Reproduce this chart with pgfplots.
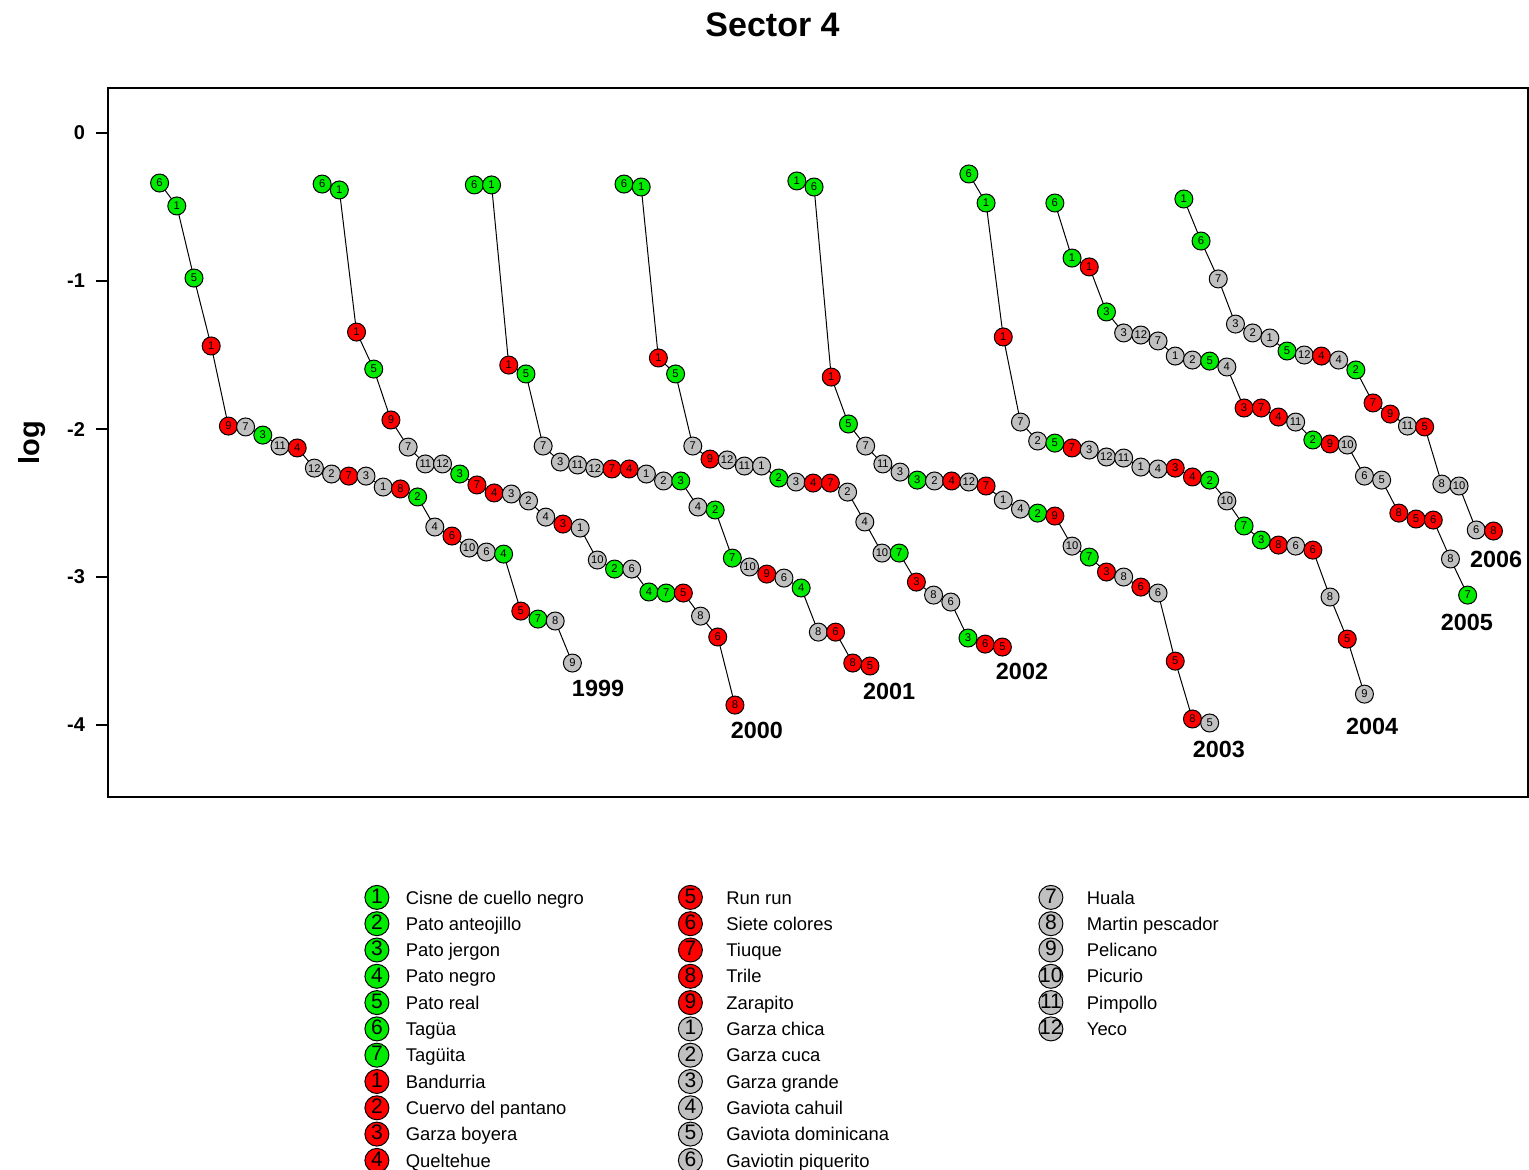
\documentclass[border=0pt]{standalone}
\usepackage{fontspec}
\setmainfont{Liberation Sans}
\usepackage{pgfplots}
\pgfplotsset{compat=1.18}
\definecolor{cG}{RGB}{0,235,0}
\definecolor{cR}{RGB}{255,0,0}
\definecolor{cS}{RGB}{192,192,192}

\pgfplotsset{
  ser/.style={black, line width=0.5pt, mark=none, forget plot,
    point meta=explicit symbolic,
    nodes near coords={\makebox[0pt]{\pgfplotspointmeta}},
    visualization depends on={value \thisrow{c}\as\mycol},
    every node near coord/.append style={circle, draw=black, line width=0.5pt, fill=\mycol,
      inner sep=0pt, minimum size=9pt, anchor=center, text=black,
      font=\fontsize{5.6}{5.6}\selectfont}},
}
\newcommand{\LE}[5]{%
  \addlegendimage{legend image code/.code={%
    \path[draw=none,fill=none] (0pt,-3.275pt) rectangle (#4,9.875pt);
    \node[circle,draw=black,line width=0.5pt,fill=#1,inner sep=0pt,minimum size=12pt,anchor=center,text=black,font=\fontsize{10.5}{10.5}\selectfont] at (6pt,3.3pt) {\makebox[0pt]{#2}};}}%
  \addlegendentry{\makebox[#5][l]{#3}}}
\newcommand{\LEempty}{\addlegendimage{empty legend}\addlegendentry{}}

\begin{document}
\begin{tikzpicture}
\useasboundingbox (-54pt,-186.5pt) rectangle (710.5pt,398.5pt);
\begin{axis}[
  at={(0pt,0pt)}, anchor=south west,
  scale only axis, width=710pt, height=354.5pt,
  xmin=0, xmax=82.56, ymin=-4.486, ymax=0.304,
  axis line style={line width=0.6pt},
  xtick=\empty,
  ytick={0,-1,-2,-3,-4},
  yticklabels={\textbf{0},\textbf{-1},\textbf{-2},\textbf{-3},\textbf{-4}},
  ytick pos=left, tick align=outside, major tick length=6pt,
  tick style={line width=0.6pt, black},
  yticklabel style={font=\fontsize{10}{12}\selectfont, xshift=-2pt},
  ylabel={log},
  every axis y label/.style={at={(axis description cs:-0.0535,0.5)}, rotate=90, anchor=center,
    font=\fontsize{14.5}{16}\selectfont\bfseries},
  title={Sector 4},
  every axis title/.style={font=\fontsize{17}{20}\selectfont\bfseries, at={(axis description cs:0.468,1.089)}, anchor=center},
  clip=false,
  legend columns=3,
  legend style={at={(axis description cs:0.18028,-0.1225)}, anchor=north west,
    draw=none, fill=none, inner sep=0pt, column sep=0pt, row sep=0pt,
    font=\fontsize{9.2}{11}\selectfont,
    cells={anchor=base west}, nodes={inner sep=0pt}},
]
\addplot[ser] table[x=x,y=y,meta=l] {
x y c l
3 -0.338 cG 6
4 -0.493 cG 1
5 -0.980 cG 5
6 -1.439 cR 1
7 -1.980 cR 9
8 -1.986 cS 7
9 -2.041 cG 3
10 -2.115 cS 11
11 -2.128 cR 4
12 -2.264 cS 12
13 -2.304 cS 2
14 -2.318 cR 7
15 -2.318 cS 3
16 -2.392 cS 1
17 -2.405 cR 8
18 -2.459 cG 2
19 -2.662 cS 4
20 -2.723 cR 6
21 -2.804 cS 10
22 -2.831 cS 6
23 -2.845 cG 4
24 -3.230 cR 5
25 -3.284 cG 7
26 -3.297 cS 8
27 -3.581 cS 9
};
\addplot[ser] table[x=x,y=y,meta=l] {
x y c l
12.45 -0.345 cG 6
13.45 -0.385 cG 1
14.45 -1.345 cR 1
15.45 -1.595 cG 5
16.45 -1.939 cR 9
17.45 -2.122 cS 7
18.45 -2.236 cS 11
19.45 -2.236 cS 12
20.45 -2.304 cG 3
21.45 -2.378 cR 7
22.45 -2.432 cR 4
23.45 -2.439 cS 3
24.45 -2.486 cS 2
25.45 -2.595 cS 4
26.45 -2.642 cR 3
27.45 -2.669 cS 1
28.45 -2.885 cS 10
29.45 -2.946 cG 2
30.45 -2.946 cS 6
31.45 -3.101 cG 4
32.45 -3.108 cG 7
33.45 -3.108 cR 5
34.45 -3.264 cS 8
35.45 -3.405 cR 6
36.45 -3.865 cR 8
};
\addplot[ser] table[x=x,y=y,meta=l] {
x y c l
21.3 -0.351 cG 6
22.3 -0.351 cG 1
23.3 -1.568 cR 1
24.3 -1.628 cG 5
25.3 -2.115 cS 7
26.3 -2.223 cS 3
27.3 -2.243 cS 11
28.3 -2.264 cS 12
29.3 -2.270 cR 7
30.3 -2.270 cR 4
31.3 -2.304 cS 1
32.3 -2.351 cS 2
33.3 -2.351 cG 3
34.3 -2.527 cS 4
35.3 -2.547 cG 2
36.3 -2.872 cG 7
37.3 -2.932 cS 10
38.3 -2.980 cR 9
39.3 -3.007 cS 6
40.3 -3.074 cG 4
41.3 -3.372 cS 8
42.3 -3.372 cR 6
43.3 -3.581 cR 8
44.3 -3.601 cR 5
};
\addplot[ser] table[x=x,y=y,meta=l] {
x y c l
30 -0.345 cG 6
31 -0.365 cG 1
32 -1.520 cR 1
33 -1.628 cG 5
34 -2.115 cS 7
35 -2.203 cR 9
36 -2.209 cS 12
37 -2.250 cS 11
38 -2.250 cS 1
39 -2.331 cG 2
40 -2.358 cS 3
41 -2.365 cR 4
42 -2.365 cR 7
43 -2.426 cS 2
44 -2.628 cS 4
45 -2.838 cS 10
46 -2.838 cG 7
47 -3.034 cR 3
48 -3.122 cS 8
49 -3.169 cS 6
50 -3.412 cG 3
51 -3.453 cR 6
52 -3.473 cR 5
};
\addplot[ser] table[x=x,y=y,meta=l] {
x y c l
40.05 -0.324 cG 1
41.05 -0.365 cG 6
42.05 -1.649 cR 1
43.05 -1.966 cG 5
44.05 -2.115 cS 7
45.05 -2.236 cS 11
46.05 -2.291 cS 3
47.05 -2.345 cG 3
48.05 -2.351 cS 2
49.05 -2.351 cR 4
50.05 -2.358 cS 12
51.05 -2.385 cR 7
52.05 -2.480 cS 1
53.05 -2.541 cS 4
54.05 -2.568 cG 2
55.05 -2.588 cR 9
56.05 -2.791 cS 10
57.05 -2.865 cG 7
58.05 -2.966 cR 3
59.05 -3.000 cS 8
60.05 -3.068 cR 6
61.05 -3.108 cS 6
62.05 -3.568 cR 5
63.05 -3.959 cR 8
64.05 -3.986 cS 5
};
\addplot[ser] table[x=x,y=y,meta=l] {
x y c l
50.05 -0.277 cG 6
51.05 -0.473 cG 1
52.05 -1.378 cR 1
53.05 -1.953 cS 7
54.05 -2.081 cS 2
55.05 -2.095 cG 5
56.05 -2.128 cR 7
57.05 -2.142 cS 3
58.05 -2.189 cS 12
59.05 -2.196 cS 11
60.05 -2.257 cS 1
61.05 -2.270 cS 4
62.05 -2.264 cR 3
63.05 -2.324 cR 4
64.05 -2.345 cG 2
65.05 -2.486 cS 10
66.05 -2.655 cG 7
67.05 -2.750 cG 3
68.05 -2.784 cR 8
69.05 -2.791 cS 6
70.05 -2.818 cR 6
71.05 -3.135 cS 8
72.05 -3.419 cR 5
73.05 -3.791 cS 9
};
\addplot[ser] table[x=x,y=y,meta=l] {
x y c l
55.05 -0.473 cG 6
56.05 -0.845 cG 1
57.05 -0.905 cR 1
58.05 -1.209 cG 3
59.05 -1.351 cS 3
60.05 -1.365 cS 12
61.05 -1.405 cS 7
62.05 -1.507 cS 1
63.05 -1.534 cS 2
64.05 -1.541 cG 5
65.05 -1.581 cS 4
66.05 -1.858 cR 3
67.05 -1.858 cR 7
68.05 -1.919 cR 4
69.05 -1.953 cS 11
70.05 -2.074 cG 2
71.05 -2.101 cR 9
72.05 -2.108 cS 10
73.05 -2.318 cS 6
74.05 -2.345 cS 5
75.05 -2.568 cR 8
76.05 -2.608 cR 5
77.05 -2.615 cR 6
78.05 -2.878 cS 8
79.05 -3.122 cG 7
};
\addplot[ser] table[x=x,y=y,meta=l] {
x y c l
62.55 -0.446 cG 1
63.55 -0.730 cG 6
64.55 -0.986 cS 7
65.55 -1.291 cS 3
66.55 -1.351 cS 2
67.55 -1.385 cS 1
68.55 -1.473 cG 5
69.55 -1.500 cS 12
70.55 -1.507 cR 4
71.55 -1.534 cS 4
72.55 -1.601 cG 2
73.55 -1.824 cR 7
74.55 -1.899 cR 9
75.55 -1.980 cS 11
76.55 -1.986 cR 5
77.55 -2.372 cS 8
78.55 -2.385 cS 10
79.55 -2.682 cS 6
80.55 -2.689 cR 8
};

\begin{scope}[every node/.style={font=\fontsize{11.7}{13}\selectfont\bfseries, anchor=center}]
\node at (axis cs:28.49,-3.750) {1999};
\node at (axis cs:37.73,-4.034) {2000};
\node at (axis cs:45.41,-3.770) {2001};
\node at (axis cs:53.14,-3.635) {2002};
\node at (axis cs:64.59,-4.162) {2003};
\node at (axis cs:73.49,-4.007) {2004};
\node at (axis cs:79.01,-3.304) {2005};
\node at (axis cs:80.70,-2.878) {2006};
\end{scope}

\LE{cG}{1}{Cisne de cuello negro}{20.5pt}{136pt}
\LE{cR}{5}{Run run}{24pt}{156pt}
\LE{cS}{7}{Huala}{24pt}{80pt}
\LE{cG}{2}{Pato anteojillo}{20.5pt}{136pt}
\LE{cR}{6}{Siete colores}{24pt}{156pt}
\LE{cS}{8}{Martin pescador}{24pt}{80pt}
\LE{cG}{3}{Pato jergon}{20.5pt}{136pt}
\LE{cR}{7}{Tiuque}{24pt}{156pt}
\LE{cS}{9}{Pelicano}{24pt}{80pt}
\LE{cG}{4}{Pato negro}{20.5pt}{136pt}
\LE{cR}{8}{Trile}{24pt}{156pt}
\LE{cS}{10}{Picurio}{24pt}{80pt}
\LE{cG}{5}{Pato real}{20.5pt}{136pt}
\LE{cR}{9}{Zarapito}{24pt}{156pt}
\LE{cS}{11}{Pimpollo}{24pt}{80pt}
\LE{cG}{6}{Tagüa}{20.5pt}{136pt}
\LE{cS}{1}{Garza chica}{24pt}{156pt}
\LE{cS}{12}{Yeco}{24pt}{80pt}
\LE{cG}{7}{Tagüita}{20.5pt}{136pt}
\LE{cS}{2}{Garza cuca}{24pt}{156pt}
\LEempty
\LE{cR}{1}{Bandurria}{20.5pt}{136pt}
\LE{cS}{3}{Garza grande}{24pt}{156pt}
\LEempty
\LE{cR}{2}{Cuervo del pantano}{20.5pt}{136pt}
\LE{cS}{4}{Gaviota cahuil}{24pt}{156pt}
\LEempty
\LE{cR}{3}{Garza boyera}{20.5pt}{136pt}
\LE{cS}{5}{Gaviota dominicana}{24pt}{156pt}
\LEempty
\LE{cR}{4}{Queltehue}{20.5pt}{136pt}
\LE{cS}{6}{Gaviotin piquerito}{24pt}{156pt}
\LEempty
\end{axis}
\end{tikzpicture}
\end{document}
